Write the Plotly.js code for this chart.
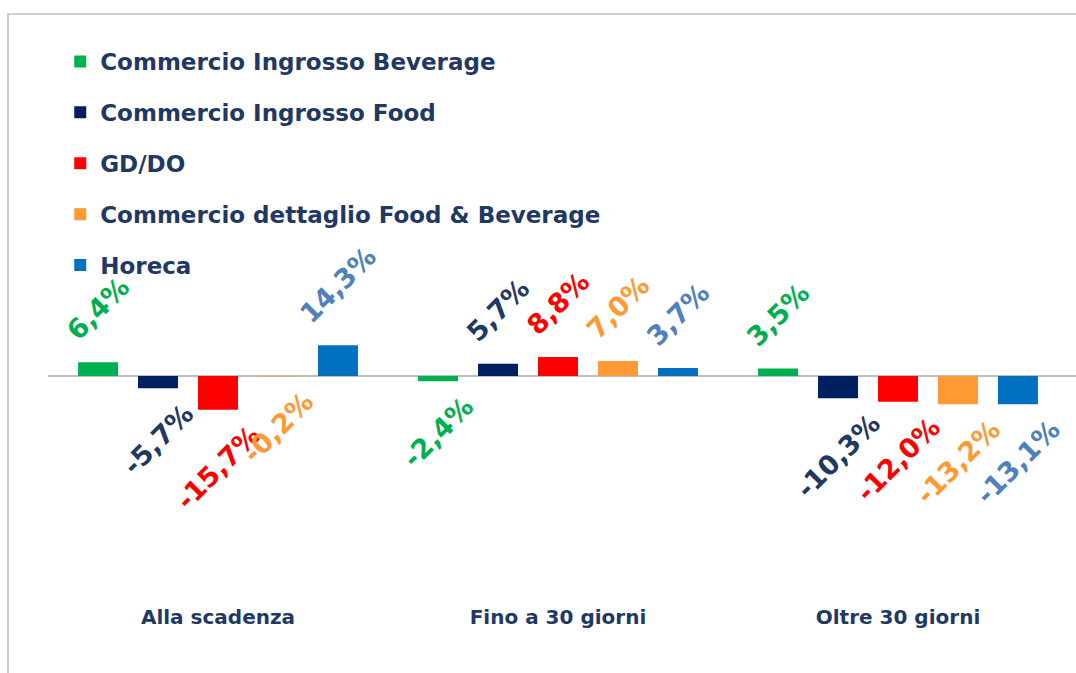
<!DOCTYPE html>
<html>
<head>
<meta charset="utf-8">
<script src="https://cdn.plot.ly/plotly-3.0.1.min.js"></script>
<style>
  html, body { margin: 0; padding: 0; background: #ffffff; }
  #chart { position: absolute; left: 0; top: 0; width: 1076px; height: 673px; }
  #frame { position: absolute; left: 7px; top: 13px; width: 1080px; height: 700px;
           border-left: 2px solid #cfcfcf; border-top: 2px solid #cfcfcf; pointer-events: none; }
</style>
</head>
<body>
<div id="chart"></div>
<div id="frame"></div>
<script>
const categories = ["Alla scadenza", "Fino a 30 giorni", "Oltre 30 giorni"];
const seriesNames = ["Commercio Ingrosso Beverage", "Commercio Ingrosso Food", "GD/DO",
                     "Commercio dettaglio Food & Beverage", "Horeca"];
const beverage = [6.4, -2.4, 3.5];
const food = [-5.7, 5.7, -10.3];
const gddo = [-15.7, 8.8, -12.0];
const dettaglio = [-0.2, 7.0, -13.2];
const horeca = [14.3, 3.7, -13.1];

const seriesValues = [beverage, food, gddo, dettaglio, horeca];
const barColors = ["#00B050", "#002060", "#FF0000", "#FF9933", "#0070C0"];
const labelColors = ["#00B050", "#1F3864", "#FF0000", "#FF9933", "#4F81BD"];

// non-breaking spaces on both sides push the rotated label a little away from the bar end
function fmt(v) {
  const pad = v >= 0 ? '\u00A0\u00A0' : '\u00A0';
  return pad + v.toFixed(1).replace('.', ',') + '%' + pad;
}

const traces = seriesValues.map((vals, i) => ({
  type: 'bar',
  name: seriesNames[i],
  x: categories,
  y: vals,
  marker: { color: barColors[i] },
  text: vals.map(fmt),
  textposition: 'outside',
  textangle: -45,
  constraintext: 'none',
  cliponaxis: false,
  textfont: { family: 'DejaVu Sans', size: 27, weight: 'bold', color: labelColors[i] },
  legendgroup: 'g' + i,
  hoverinfo: 'skip'
}));

const ML = 48, MR = 8, W = 1076;

const layout = {
  width: W,
  height: 673,
  paper_bgcolor: '#ffffff',
  plot_bgcolor: '#ffffff',
  margin: { l: ML, r: MR, t: 40, b: 70 },
  barmode: 'group',
  bargap: 0.118,
  bargroupgap: 0.333,
  showlegend: true,
  legend: {
    x: 0.012, y: 1.0, xanchor: 'left', yanchor: 'top',
    orientation: 'v',
    traceorder: 'grouped',
    tracegroupgap: 18,
    font: { family: 'DejaVu Sans', size: 23, weight: 'bold', color: '#1F3864' },
    bgcolor: 'rgba(0,0,0,0)'
  },
  xaxis: {
    type: 'category',
    showline: false,
    showgrid: false,
    ticks: '',
    tickfont: { family: 'DejaVu Sans', size: 20, weight: 'bold', color: '#1F3864' },
    fixedrange: true
  },
  yaxis: {
    range: [-105.6, 156.3],
    showticklabels: false,
    showgrid: false,
    showline: false,
    ticks: '',
    zeroline: false,
    fixedrange: true
  },
  shapes: [{
    type: 'line', layer: 'below',
    xref: 'paper', yref: 'y',
    x0: 0, x1: (W - ML) / (W - ML - MR),
    y0: 0, y1: 0,
    line: { color: '#bfbfbf', width: 2 }
  }]
};

Plotly.newPlot('chart', traces, layout, { displayModeBar: false, staticPlot: true });
</script>
</body>
</html>
